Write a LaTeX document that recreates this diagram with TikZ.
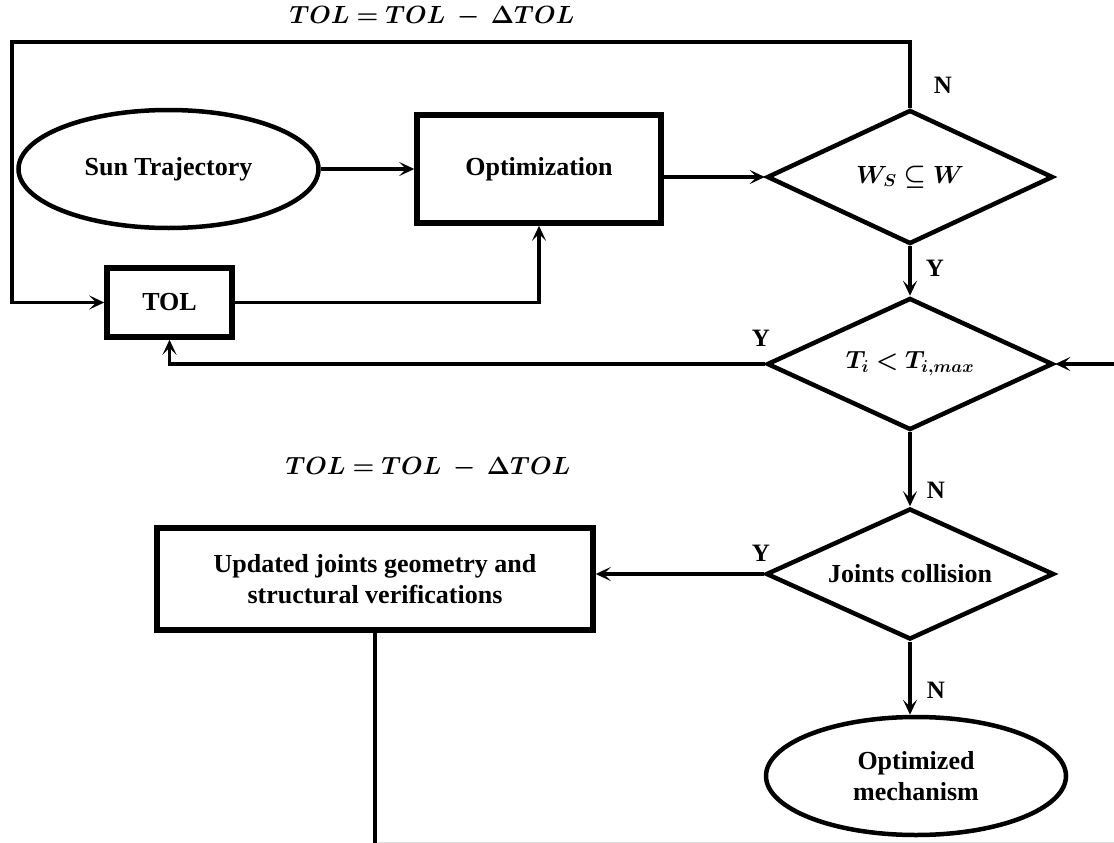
\documentclass[tikz,border=0pt]{standalone}
\usepackage{fontspec}
\setmainfont{Liberation Serif}
\usepackage{bm}
\usetikzlibrary{shapes.geometric,arrows.meta}
\begin{document}
\begin{tikzpicture}[x=1pt,y=-1pt,
  txt/.style={font=\fontsize{26}{31}\selectfont\bfseries, align=center},
  boxn/.style={draw, rectangle, line width=5.5pt, inner sep=0pt, txt},
  ell/.style={draw, ellipse, line width=4.5pt, inner sep=0pt, txt},
  dia/.style={draw, diamond, shape aspect=2.2, line width=4.5pt, inner sep=0pt, txt},
  conn/.style={line width=3.4pt},
  arr/.style={conn, -{Stealth[length=15pt,width=14pt,inset=7pt]}},
  lbl/.style={font=\fontsize{25}{28}\selectfont\bfseries, inner sep=0pt},
  eq/.style={font=\fontsize{24}{28}\selectfont, inner sep=0pt}]
\useasboundingbox (0,0) rectangle (1114,843);
\node[ell, minimum width=300pt, minimum height=118pt] (sun) at (168.5,169) {Sun Trajectory};
\node[boxn, minimum width=244pt, minimum height=108pt] (opt) at (539,169) {Optimization};
\node[dia, minimum width=286pt, minimum height=134pt] (d1) at (910,177) {$\bm{W_S \subseteq W}$};
\node[boxn, minimum width=125pt, minimum height=69pt] (tol) at (169.5,302.5) {TOL};
\node[dia, minimum width=286pt, minimum height=132pt] (d2) at (910,364) {$\bm{T_i < T_{i,max}}$};
\node[dia, minimum width=288pt, minimum height=131pt] (d3) at (910,574) {Joints collision};
\node[boxn, minimum width=436pt, minimum height=102pt] (upd) at (375,579) {Updated joints geometry and\\structural verifications};
\node[ell, minimum width=300pt, minimum height=118pt] (om) at (916,776) {Optimized\\mechanism};
\coordinate (tl) at (12,42);
\coordinate (rin) at (1114,364);
\coordinate (bot) at (375,843);
\draw[arr] (sun) -- (opt);
\draw[arr] (opt.east |- d1.west) -- (d1.west);
\draw[arr] (d1.north) |- (tl) |- (tol.west);
\draw[arr] (tol.east) -| (opt.south);
\draw[arr] (d1.south) -- (d2.north);
\draw[arr] (d2.west) -| (tol.south);
\draw[arr] (rin) -- (d2.east);
\draw[arr] (d2.south) -- (d3.north);
\draw[arr] (d3.west) -- (d3.west -| upd.east);
\draw[conn] (upd.south) -- (bot);
\draw[arr] (d3.south) -- (d3.south |- om.north);
\draw[gray!25, line width=1pt] (378,842) -- (1114,842);
\node[eq] (eq1) at (432,17) {$\bm{TOL = TOL\ -\ \Delta TOL}$};
\node[eq] (eq2) at (428,468) {$\bm{TOL = TOL\ -\ \Delta TOL}$};
\node[lbl] (n1) at (943,85) {N};
\node[lbl] (y1) at (935,268) {Y};
\node[lbl] (y2) at (761,338) {Y};
\node[lbl] (n2) at (936,490) {N};
\node[lbl] (y3) at (761,553) {Y};
\node[lbl] (n3) at (936,690) {N};
\end{tikzpicture}
\end{document}
